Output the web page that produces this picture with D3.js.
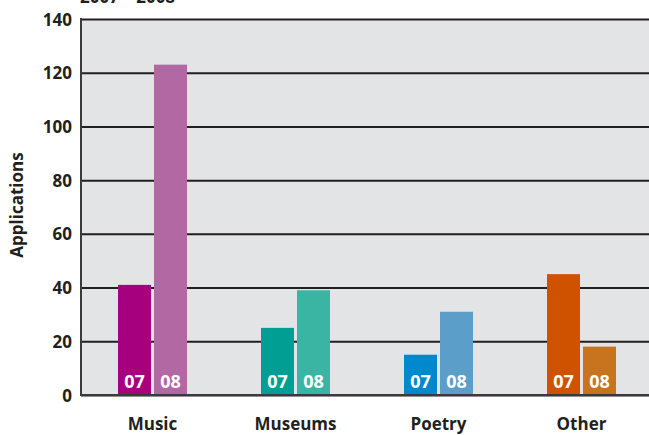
<!DOCTYPE html>
<html>
<head>
<meta charset="utf-8">
<script src="https://cdn.jsdelivr.net/npm/d3@7"></script>
<style>
  html, body { margin: 0; padding: 0; background: #ffffff; }
  svg { display: block; }
  text { font-family: "Open Sans", "Lato", sans-serif; font-weight: 700; fill: #231f20; }
</style>
</head>
<body>
<svg id="chart" width="649" height="435"></svg>
<script>
// Applications per art form, 2007 vs 2008
const categories = ["Music", "Museums", "Poetry", "Other"];
const years = ["07", "08"];
const values2007 = [41, 25, 15, 45];
const values2008 = [123, 39, 31, 18];
const colors2007 = ["#a6007f", "#009e93", "#0088cf", "#cf5200"];
const colors2008 = ["#b268a2", "#3bb5a3", "#5a9ec9", "#c8731d"];
const yTicks = [0, 20, 40, 60, 80, 100, 120, 140];
const title = "2007 – 2008";
const yTitle = "Applications";

const rows = categories.map((c, i) => ({
  category: c,
  bars: [
    { year: years[0], value: values2007[i], color: colors2007[i] },
    { year: years[1], value: values2008[i], color: colors2008[i] }
  ]
}));

const svg = d3.select("#chart");
const margin = { left: 81, top: 19, bottom: 40 };
const plotRight = 653;
const plotBottom = 395;

const x = d3.scaleBand().domain(categories).range([margin.left, plotRight]).padding(0);
const barW = 33, barGap = 3;
const xInner = d3.scaleBand().domain(years).range([0, barW * 2 + barGap]).paddingInner(barGap / (barW + barGap)).paddingOuter(0);
const y = d3.scaleLinear().domain([0, 140]).range([plotBottom, margin.top]);

// plot background
svg.append("rect")
  .attr("x", margin.left).attr("y", margin.top)
  .attr("width", plotRight - margin.left).attr("height", plotBottom - margin.top)
  .attr("fill", "#e3e4e6");

// gridlines
const yAxis = d3.axisLeft(y).tickValues(yTicks).tickSize(-(plotRight - margin.left)).tickFormat(d => d);
const gY = svg.append("g").attr("transform", `translate(${margin.left},0)`).call(yAxis);
gY.select(".domain").remove();
gY.selectAll(".tick line").attr("stroke", "#231f20").attr("stroke-width", 2);
gY.selectAll(".tick text")
  .attr("x", -9).attr("dy", "0.36em")
  .style("font-size", "17px").attr("fill", "#231f20");

// bars
const groups = svg.append("g").selectAll("g").data(rows).join("g")
  .attr("transform", d => `translate(${x(d.category) + (x.bandwidth() - xInner.range()[1]) / 2},0)`);

groups.selectAll("rect").data(d => d.bars).join("rect")
  .attr("x", d => xInner(d.year))
  .attr("y", d => y(d.value))
  .attr("width", xInner.bandwidth())
  .attr("height", d => y(0) - y(d.value))
  .attr("fill", d => d.color);

groups.selectAll("text.yr").data(d => d.bars).join("text")
  .attr("class", "yr")
  .attr("x", d => xInner(d.year) + xInner.bandwidth() / 2)
  .attr("y", plotBottom - 7)
  .attr("text-anchor", "middle")
  .style("font-size", "18px")
  .style("fill", "#ffffff")
  .text(d => d.year);

// left axis line and baseline
svg.append("line")
  .attr("x1", margin.left).attr("x2", margin.left)
  .attr("y1", margin.top - 1).attr("y2", plotBottom + 1)
  .attr("stroke", "#3a3a3c").attr("stroke-width", 2);
svg.append("line")
  .attr("x1", margin.left).attr("x2", plotRight)
  .attr("y1", plotBottom).attr("y2", plotBottom)
  .attr("stroke", "#3a3a3c").attr("stroke-width", 2);

// category labels
const xAxis = d3.axisBottom(x).tickSize(0).tickPadding(0);
const gX = svg.append("g").attr("transform", `translate(0,${plotBottom})`).call(xAxis);
gX.select(".domain").remove();
gX.selectAll(".tick text")
  .attr("y", 29).attr("dy", "0.35em")
  .style("font-size", "17px").attr("fill", "#231f20");

// y axis title
svg.append("text")
  .attr("transform", "translate(23,205) rotate(-90)")
  .attr("text-anchor", "middle")
  .style("font-size", "17px")
  .text(yTitle);

// heading (partly above the frame)
svg.append("text")
  .attr("x", 80).attr("y", 3)
  .style("font-size", "17px")
  .text(title);
</script>
</body>
</html>
